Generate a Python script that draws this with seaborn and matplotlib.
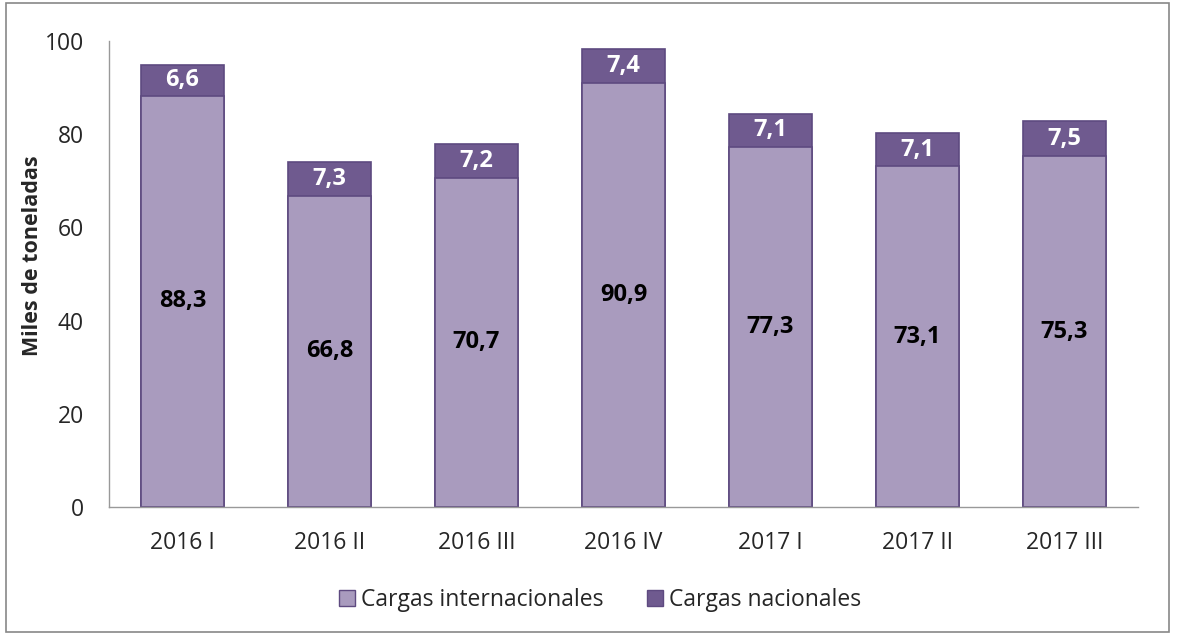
import matplotlib
matplotlib.use("Agg")
import matplotlib.pyplot as plt
from matplotlib.patches import Rectangle, Patch
import seaborn as sns
import pandas as pd

periodos = ["2016 I", "2016 II", "2016 III", "2016 IV", "2017 I", "2017 II", "2017 III"]
internacionales = [88.3, 66.8, 70.7, 90.9, 77.3, 73.1, 75.3]
nacionales = [6.6, 7.3, 7.2, 7.4, 7.1, 7.1, 7.5]

light = "#A99BBE"
dark = "#6F5A8F"
edge = "#5E4A80"

sns.set_style("white")
plt.rcParams["font.family"] = ["Open Sans", "DejaVu Sans"]

df = pd.DataFrame({
    "periodo": periodos,
    "internacionales": internacionales,
    "nacionales": nacionales,
})
df["total"] = df["internacionales"] + df["nacionales"]

fig = plt.figure(figsize=(11.77, 6.35), dpi=100)
ax = fig.add_axes([109 / 1177, 1 - 507 / 635, (1138 - 109) / 1177, (507 - 41) / 635])

# total bar (dark) then international on top of it (light)
sns.barplot(data=df, x="periodo", y="total", color=dark, saturation=1,
            width=0.57, edgecolor=edge, linewidth=1.2, ax=ax)
sns.barplot(data=df, x="periodo", y="internacionales", color=light, saturation=1,
            width=0.57, edgecolor=edge, linewidth=1.2, ax=ax)

for i, row in df.iterrows():
    ax.text(i, row["internacionales"] / 2, f"{row['internacionales']:.1f}".replace(".", ","),
            ha="center", va="center", fontsize=17, fontweight="bold", color="black")
    ax.text(i, row["internacionales"] + row["nacionales"] / 2,
            f"{row['nacionales']:.1f}".replace(".", ","),
            ha="center", va="center", fontsize=17, fontweight="bold", color="white")

ax.set_ylim(0, 100)
ax.set_xlim(-0.5, 6.5)
ax.set_yticks(range(0, 101, 20))
ax.set_xlabel("")
ax.set_ylabel("Miles de toneladas", fontsize=15.5, fontweight="bold")
ax.yaxis.set_label_coords(-0.064, 0.54)
ax.tick_params(axis="both", labelsize=16.5, length=0)
ax.tick_params(axis="y", pad=18)
ax.tick_params(axis="x", pad=17)
for side in ["top", "right"]:
    ax.spines[side].set_visible(False)
for side in ["left", "bottom"]:
    ax.spines[side].set_color("#999999")
    ax.spines[side].set_linewidth(1)

handles = [Patch(facecolor=light, edgecolor=edge, label="Cargas internacionales"),
           Patch(facecolor=dark, edgecolor=edge, label="Cargas nacionales")]
fig.legend(handles=handles, loc="center", bbox_to_anchor=(600 / 1177, 1 - 600 / 635), ncol=2,
           frameon=False, fontsize=16.5, handlelength=0.7, handleheight=0.7,
           handletextpad=0.25, columnspacing=1.9)

fig.patches.append(Rectangle((6 / 1177, 3 / 635), 1163 / 1177, 629 / 635,
                             transform=fig.transFigure, fill=False,
                             edgecolor="#888888", linewidth=1.2))

fig.savefig("out.png", dpi=100)
